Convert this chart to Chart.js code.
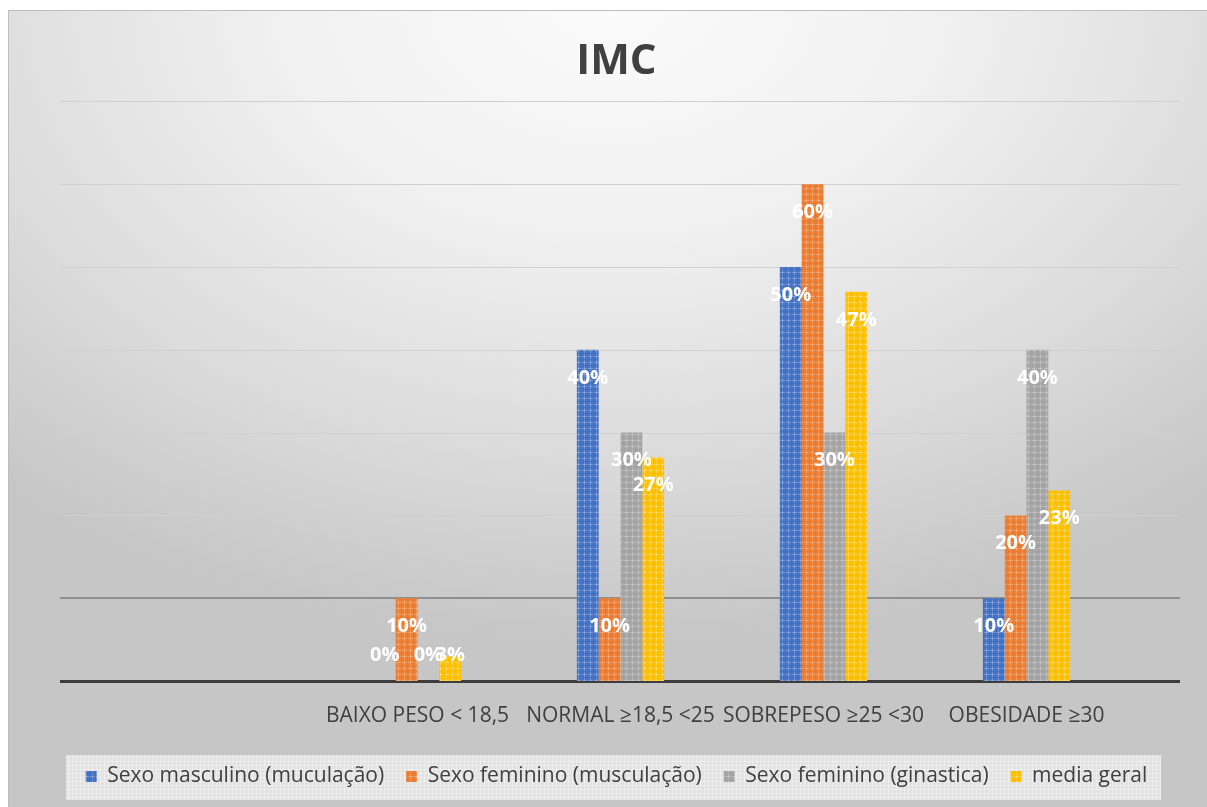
<!DOCTYPE html>
<html>
<head>
<meta charset="utf-8">
<script src="https://cdn.jsdelivr.net/npm/chart.js@4.4.1/dist/chart.umd.min.js"></script>
<style>
  html, body { margin: 0; padding: 0; background: #ffffff; }
  #wrap { width: 1207px; height: 807px; position: relative; }
  canvas { display: block; }
</style>
</head>
<body>
<div id="wrap"><canvas id="imc" width="1207" height="807"></canvas></div>
<script>
// Categories (the first slot is left empty on purpose)
const categories = ['', 'BAIXO PESO < 18,5', 'NORMAL \u226518,5 <25', 'SOBREPESO \u226525 <30', 'OBESIDADE \u226530'];

// Series names
const seriesNames = [
  'Sexo masculino (mucula\u00e7\u00e3o)',
  'Sexo feminino (muscula\u00e7\u00e3o)',
  'Sexo feminino (ginastica)',
  'media geral'
];

// Percentages per category
const masculinoMusculacao = [null, 0, 40, 50, 10];
const femininoMusculacao  = [null, 10, 10, 60, 20];
const femininoGinastica   = [null, 0, 30, 30, 40];
const mediaGeral          = [null, 3, 27, 47, 23];

// Value axis ticks (percent)
const yTicks = [0, 10, 20, 30, 40, 50, 60, 70];

const seriesColors = ['#4472C4', '#ED7D31', '#A5A5A5', '#FFC000'];

// Small textured fill used by the bars
function texture(base) {
  const c = document.createElement('canvas');
  c.width = 6; c.height = 6;
  const g = c.getContext('2d');
  g.fillStyle = base;
  g.fillRect(0, 0, 6, 6);
  g.fillStyle = 'rgba(255,255,255,0.25)';
  g.fillRect(2, 0, 1, 5);
  g.fillRect(0, 2, 5, 1);
  g.fillStyle = 'rgba(0,0,0,0.05)';
  g.fillRect(5, 5, 1, 1);
  return g.createPattern(c, 'repeat');
}

const seriesValues = [masculinoMusculacao, femininoMusculacao, femininoGinastica, mediaGeral];

const datasets = seriesValues.map((vals, i) => ({
  label: seriesNames[i],
  data: vals,
  backgroundColor: texture(seriesColors[i]),
  borderWidth: 0,
  barPercentage: 1.0,
  categoryPercentage: 0.43
}));

// Panel background, gridlines and legend frame
const backdrop = {
  id: 'backdrop',
  beforeDraw(chart) {
    const ctx = chart.ctx;
    const W = chart.width, H = chart.height;
    const x0 = 8, y0 = 10;
    ctx.save();
    // outer panel with soft radial shading
    ctx.translate(610, 0);
    ctx.scale(1.45, 1);
    const grad = ctx.createRadialGradient(0, 0, 0, 0, 0, 640);
    grad.addColorStop(0, '#fbfbfb');
    grad.addColorStop(0.35, '#f1f1f1');
    grad.addColorStop(0.7, '#dcdcdc');
    grad.addColorStop(1, '#c6c6c6');
    ctx.fillStyle = grad;
    ctx.fillRect((x0 - 610) / 1.45, y0, (W - x0) / 1.45, H - y0);
    ctx.setTransform(1, 0, 0, 1, 0, 0);
    ctx.strokeStyle = '#bdbdbd';
    ctx.lineWidth = 1;
    ctx.beginPath();
    ctx.moveTo(x0 + 0.5, H);
    ctx.lineTo(x0 + 0.5, y0 + 0.5);
    ctx.lineTo(W, y0 + 0.5);
    ctx.stroke();

    // legend frame
    const lg = chart.legend;
    if (lg && lg.legendHitBoxes && lg.legendHitBoxes.length) {
      const boxes = lg.legendHitBoxes;
      const left = Math.round(boxes[0].left - 20);
      const last = boxes[boxes.length - 1];
      const right = Math.round(last.left + last.width + 14);
      const cy = boxes[0].top + boxes[0].height / 2;
      const top = Math.round(cy - 22), bottom = Math.round(cy + 23);
      ctx.fillStyle = '#e2e2e2';
      ctx.fillRect(left, top, right - left, bottom - top);
      ctx.fillStyle = 'rgba(255,255,255,0.35)';
      for (let x = left + 2; x < right; x += 4) ctx.fillRect(x, top, 1, bottom - top);
      for (let y = top + 2; y < bottom; y += 4) ctx.fillRect(left, y, right - left, 1);
    }

    // horizontal gridlines spanning the whole plot panel
    const ys = chart.scales.y;
    const area = chart.chartArea;
    const gl = area.left - 53, gr = area.right + 52;
    yTicks.forEach(v => {
      const y = ys.getPixelForValue(v);
      ctx.beginPath();
      if (v === 0) { ctx.strokeStyle = '#3d3d3d'; ctx.lineWidth = 3; }
      else if (v === 10) { ctx.strokeStyle = '#8f8f8f'; ctx.lineWidth = 2; }
      else { ctx.strokeStyle = '#d0d0d0'; ctx.lineWidth = 1; }
      const yy = ctx.lineWidth % 2 ? Math.round(y) + 0.5 : Math.round(y);
      ctx.moveTo(gl, yy);
      ctx.lineTo(gr, yy);
      ctx.stroke();
    });
    ctx.restore();
  }
};

// Percent labels near the top of every bar
const barLabels = {
  id: 'barLabels',
  afterDatasetsDraw(chart) {
    const ctx = chart.ctx;
    ctx.save();
    ctx.font = 'bold 20px "Open Sans"';
    ctx.fillStyle = '#ffffff';
    ctx.textAlign = 'center';
    ctx.textBaseline = 'middle';
    chart.data.datasets.forEach((ds, i) => {
      const meta = chart.getDatasetMeta(i);
      meta.data.forEach((bar, j) => {
        const v = ds.data[j];
        if (v === null || v === undefined) return;
        const y = Math.min(bar.y + 28, bar.base - 26);
        ctx.fillText(v + '%', bar.x, y);
      });
    });
    ctx.restore();
  }
};

new Chart(document.getElementById('imc'), {
  type: 'bar',
  data: { labels: categories, datasets },
  plugins: [backdrop, barLabels],
  options: {
    responsive: false,
    animation: false,
    devicePixelRatio: 1,
    layout: { padding: { left: 26, right: 0, top: 0, bottom: 10 } },
    scales: {
      x: {
        grid: { display: false, drawTicks: false },
        border: { display: false },
        ticks: {
          color: '#404040',
          font: { family: '"Open Sans"', size: 21 },
          padding: 22,
          maxRotation: 0,
          autoSkip: false
        },
        afterFit(scale) { scale.height = 63; }
      },
      y: {
        position: 'left',
        min: 0,
        max: 70,
        grid: { display: false, drawTicks: false },
        border: { display: false },
        ticks: { display: false, stepSize: 10 },
        afterFit(scale) { scale.width = 87; }
      },
      yRight: {
        position: 'right',
        min: 0,
        max: 1,
        grid: { display: false, drawTicks: false },
        border: { display: false },
        ticks: { display: false },
        afterFit(scale) { scale.width = 79; }
      }
    },
    plugins: {
      title: {
        display: true,
        text: 'IMC',
        color: '#404040',
        font: { family: '"Open Sans"', size: 42, weight: 'bold', lineHeight: 1.2 },
        padding: { top: 37, bottom: 14 }
      },
      legend: {
        position: 'bottom',
        labels: {
          color: '#404040',
          font: { family: '"Open Sans"', size: 21 },
          boxWidth: 11,
          boxHeight: 11,
          padding: 22
        }
      },
      tooltip: { enabled: false }
    }
  }
});
</script>
</body>
</html>
